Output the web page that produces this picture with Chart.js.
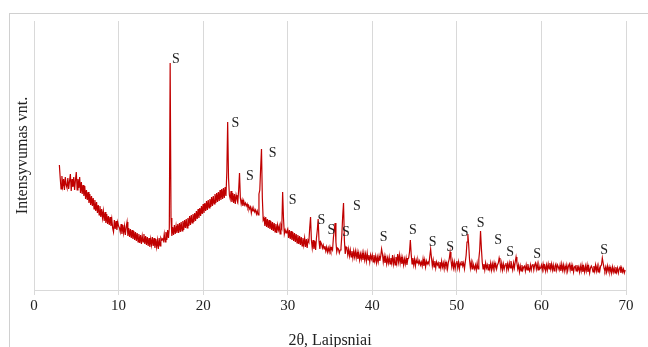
<!DOCTYPE html>
<html>
<head>
<meta charset="utf-8">
<script src="https://cdn.jsdelivr.net/npm/chart.js@4"></script>
<style>
  html, body { margin: 0; padding: 0; background: #fff; overflow: hidden; }
  #wrap { position: relative; width: 648px; height: 347px; }
  #frame { position: absolute; left: 9px; top: 13px; width: 700px; height: 400px; border: 1px solid #d0d0d0; }
  #chart { position: absolute; left: 0; top: 0; }
</style>
</head>
<body>
<div id="wrap">
  <div id="frame"></div>
  <canvas id="chart" width="648" height="347"></canvas>
</div>
<script>
// ── Scan settings (2θ, degrees) ───────────────────────────────────────────
const thetaStart = 3.0;
const thetaStep  = 0.1;

// ── Intensity, one row per degree (10 steps of 0.1°) ─────────────────────
const counts = [
  /* 3 */ 125, 112, 101, 114, 104, 111, 100, 113, 105, 102,
  /* 4 */ 112, 101, 109, 116, 99, 111, 103, 113, 100, 110,
  /* 5 */ 118, 100, 111, 102, 113, 97, 108, 96, 105, 94,
  /* 6 */ 104, 91, 100, 90, 98, 87, 96, 85, 94, 84,
  /* 7 */ 92, 81, 90, 79, 88, 77, 85, 75, 84, 73,
  /* 8 */ 81, 72, 79, 69, 78, 67, 76, 66, 74, 65,
  /* 9 */ 73, 64, 71, 62, 58, 70, 61, 69, 60, 68,
  /*10 */ 64, 62, 58, 66, 56, 65, 57, 64, 55, 63,
  /*11 */ 68, 54, 62, 53, 61, 52, 60, 51, 59, 50,
  /*12 */ 58, 49, 57, 48, 56, 47, 55, 46, 54, 48,
  /*13 */ 56, 46, 54, 45, 53, 44, 52, 43, 51, 45,
  /*14 */ 53, 44, 52, 42, 51, 43, 50, 41, 52, 44,
  /*15 */ 52, 50, 51, 49, 56, 48, 58, 50, 60, 52,
  /*16 */ 62, 227, 72, 54, 63, 55, 65, 56, 64, 57,
  /*17 */ 66, 57, 67, 58, 68, 59, 69, 60, 70, 62,
  /*18 */ 71, 62, 72, 64, 74, 65, 75, 67, 76, 68,
  /*19 */ 77, 69, 79, 71, 81, 72, 82, 74, 84, 76,
  /*20 */ 86, 77, 87, 79, 89, 80, 90, 82, 91, 83,
  /*21 */ 93, 84, 94, 86, 96, 87, 97, 88, 98, 89,
  /*22 */ 100, 90, 101, 91, 102, 92, 103, 94, 118, 168,
  /*23 */ 112, 95, 91, 99, 88, 97, 87, 96, 86, 95,
  /*24 */ 91, 88, 100, 117, 92, 86, 90, 84, 89, 85,
  /*25 */ 87, 84, 86, 82, 84, 81, 83, 77, 82, 79,
  /*26 */ 81, 78, 80, 76, 79, 75, 96, 100, 122, 141,
  /*27 */ 92, 70, 72, 64, 73, 63, 71, 62, 70, 61,
  /*28 */ 69, 60, 68, 59, 67, 58, 66, 57, 65, 60,
  /*29 */ 64, 56, 65, 62, 98, 72, 56, 60, 57, 59,
  /*30 */ 61, 52, 60, 51, 59, 50, 58, 49, 57, 48,
  /*31 */ 56, 47, 55, 46, 54, 45, 53, 44, 52, 45,
  /*32 */ 52, 43, 51, 42, 50, 48, 62, 73, 50, 42,
  /*33 */ 50, 41, 49, 40, 52, 60, 71, 49, 41, 48,
  /*34 */ 46, 42, 45, 41, 44, 39, 43, 38, 42, 38,
  /*35 */ 43, 39, 42, 40, 52, 60, 67, 48, 38, 42,
  /*36 */ 41, 37, 40, 42, 55, 74, 87, 50, 36, 43,
  /*37 */ 42, 35, 41, 34, 40, 33, 39, 32, 39, 33,
  /*38 */ 39, 32, 38, 31, 37, 30, 36, 31, 37, 30,
  /*39 */ 37, 30, 36, 29, 37, 30, 35, 28, 35, 31,
  /*40 */ 35, 28, 35, 29, 34, 27, 33, 28, 34, 29,
  /*41 */ 34, 41, 36, 28, 34, 27, 33, 26, 32, 27,
  /*42 */ 33, 26, 32, 27, 35, 26, 32, 25, 33, 27,
  /*43 */ 36, 28, 35, 27, 33, 26, 32, 25, 31, 26,
  /*44 */ 32, 25, 31, 32, 38, 50, 36, 26, 32, 25,
  /*45 */ 31, 24, 30, 27, 30, 26, 29, 25, 28, 24,
  /*46 */ 31, 24, 30, 23, 29, 26, 28, 26, 34, 41,
  /*47 */ 32, 24, 30, 23, 29, 22, 28, 25, 27, 22,
  /*48 */ 28, 22, 29, 23, 27, 21, 28, 24, 27, 21,
  /*49 */ 28, 31, 38, 30, 23, 29, 22, 28, 21, 27,
  /*50 */ 29, 22, 28, 21, 27, 25, 29, 24, 27, 21,
  /*51 */ 28, 35, 48, 56, 45, 30, 22, 28, 21, 27,
  /*52 */ 24, 21, 25, 20, 27, 21, 31, 40, 59, 42,
  /*53 */ 28, 21, 26, 20, 27, 22, 25, 20, 26, 21,
  /*54 */ 27, 20, 26, 21, 27, 22, 26, 21, 25, 27,
  /*55 */ 32, 28, 21, 27, 20, 26, 21, 25, 27, 20,
  /*56 */ 26, 21, 27, 22, 29, 24, 20, 27, 22, 28,
  /*57 */ 33, 27, 21, 25, 18, 24, 19, 25, 20, 23,
  /*58 */ 24, 19, 25, 20, 26, 21, 19, 25, 20, 25,
  /*59 */ 26, 20, 25, 27, 21, 26, 20, 25, 21, 22,
  /*60 */ 25, 20, 26, 21, 24, 19, 25, 20, 26, 21,
  /*61 */ 27, 21, 26, 20, 25, 19, 24, 26, 20, 25,
  /*62 */ 23, 20, 25, 19, 26, 20, 25, 19, 24, 20,
  /*63 */ 25, 19, 24, 26, 20, 25, 19, 24, 18, 23,
  /*64 */ 24, 19, 25, 20, 23, 18, 24, 19, 25, 18,
  /*65 */ 23, 18, 24, 19, 25, 18, 23, 17, 22, 24,
  /*66 */ 22, 18, 24, 19, 25, 19, 24, 18, 23, 19,
  /*67 */ 24, 25, 32, 27, 22, 19, 23, 18, 24, 19,
  /*68 */ 23, 18, 22, 17, 23, 18, 22, 17, 23, 18,
  /*69 */ 22, 17, 21, 23, 17, 22, 18, 21, 17, 20,
];

// ── "S" peak markers (2θ, intensity) ──────────────────────────────────────
const markX = [16.77, 23.81, 25.53, 28.21, 30.57, 33.99, 35.16, 36.89, 38.19, 41.33,
               44.79, 47.14, 49.20, 50.91, 52.82, 54.88, 56.30, 59.49, 67.42];
const markY = [231, 167, 114, 137, 90, 70, 60, 58, 84, 53,
               60, 48, 43, 58, 67, 50, 38, 36, 40];
const markText = 'S';

// ── Axis settings ─────────────────────────────────────────────────────────
const xTicks    = [0, 10, 20, 30, 40, 50, 60, 70];
const xTitle    = '2θ, Laipsniai';
const yTitle    = 'Intensyvumas vnt.';
const lineColor = '#c00000';

const points = counts.map((v, i) => ({ x: +(thetaStart + i * thetaStep).toFixed(1), y: v }));

// draws the "S" labels next to the peaks
const markPlugin = {
  id: 'marks',
  afterDatasetsDraw(chart) {
    const { ctx, scales: { x, y } } = chart;
    ctx.save();
    ctx.font = '14px "Liberation Serif", serif';
    ctx.fillStyle = '#222';
    ctx.textAlign = 'center';
    ctx.textBaseline = 'middle';
    markX.forEach((v, i) => ctx.fillText(markText, x.getPixelForValue(v), y.getPixelForValue(markY[i])));
    ctx.restore();
  },
};

const tickFont  = { family: '"Liberation Serif", serif', size: 15, lineHeight: 1 };
const titleFont = { family: '"Liberation Serif", serif', size: 16, lineHeight: 1 };

new Chart(document.getElementById('chart'), {
  type: 'line',
  data: {
    datasets: [{
      data: points,
      borderColor: lineColor,
      borderWidth: 1.2,
      pointRadius: 0,
      tension: 0,
      fill: false,
    }],
  },
  options: {
    responsive: false,
    animation: false,
    layout: { padding: { top: 21, right: 22, left: 0, bottom: 0 } },
    plugins: { legend: { display: false }, tooltip: { enabled: false } },
    scales: {
      x: {
        type: 'linear',
        min: 0, max: 70,
        afterBuildTicks: (s) => { s.ticks = xTicks.map(v => ({ value: v })); },
        afterFit: (s) => { s.height = 57; },
        grid: { color: '#d9d9d9', tickLength: 5 },
        border: { color: '#d9d9d9' },
        ticks: { color: '#222', font: tickFont, padding: 4, maxRotation: 0 },
        title: { display: true, text: xTitle, color: '#222', font: titleFont, padding: { top: 0, bottom: -2 } },
      },
      y: {
        min: 0, max: 269,
        afterFit: (s) => { s.width = 34; },
        grid: { display: false },
        border: { display: false },
        ticks: { display: false },
        title: { display: true, text: yTitle, color: '#222', font: titleFont, padding: { top: 15, bottom: 0 } },
      },
    },
  },
  plugins: [markPlugin],
});
</script>
</body>
</html>
